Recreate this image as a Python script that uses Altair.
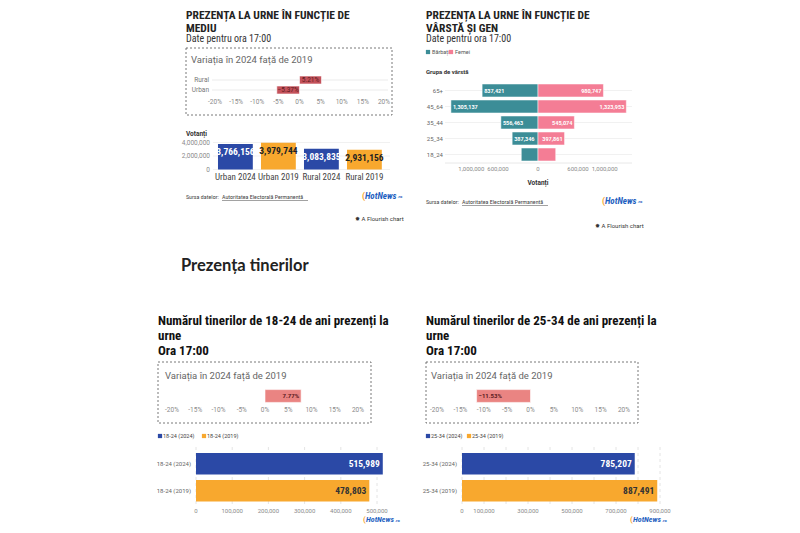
import altair as alt
import pandas as pd

# ---------------- data ----------------
env_cats = ['Rural', 'Urban']
env_var = [5.21, -5.37]
pct_ticks = [-20, -15, -10, -5, 0, 5, 10, 15, 20]

votes_cats = ['Urban 2024', 'Urban 2019', 'Rural 2024', 'Rural 2019']
votes_vals = [3766156, 3979744, 3083835, 2931156]
votes_year = ['2024', '2019', '2024', '2019']
votes_ticks = [0, 2000000, 4000000]

age_groups = ['65+', '45_64', '35_44', '25_34', '18_24']
men = [837421, 1305137, 556463, 387346, 250500]
women = [980747, 1323953, 545074, 397861, 265489]
age_ticks = [-1000000, -600000, 0, 600000, 1000000]

young_var_cat = ['18-24']
young_var = [7.77]
young_cats = ['18-24 (2024)', '18-24 (2019)']
young_vals = [515989, 478803]
young_grid = [0, 100000, 200000, 300000, 400000, 500000]
young_labels = [0, 100000, 200000, 300000, 400000, 500000]

adult_var_cat = ['25-34']
adult_var = [-11.53]
adult_cats = ['25-34 (2024)', '25-34 (2019)']
adult_vals = [785207, 887491]
adult_grid = [0, 100000, 200000, 300000, 400000, 500000, 600000, 700000, 800000, 900000]
adult_labels = [0, 100000, 300000, 500000, 700000, 900000]

# ---------------- style ----------------
OFF = 8
W, H = 784, 517
BLUE = '#2b49a6'
ORANGE = '#f8a82e'
TEAL = '#3c8d97'
PINK = '#f47d95'
RED_DARK = '#c4525b'
RED_LIGHT = '#ea8482'
GRAY = '#8a8a8a'
COND = 'Roboto Condensed, Liberation Sans Narrow, DejaVu Sans Condensed, Arial Narrow, Roboto'
BODY = 'Roboto, Inter, sans-serif'
ONE = pd.DataFrame({'k': [0]})


def p(v):
    return v - OFF


def T(text, x, y, size=7, color='#333', weight='normal', font=BODY, align='left', baseline='middle', **kw):
    return alt.Chart(ONE).mark_text(text=text, fontSize=size, color=color, fontWeight=weight, font=font,
                                    align=align, baseline=baseline, **kw).encode(x=alt.value(p(x)), y=alt.value(p(y)))


def box(x0, y0, x1, y1):
    return alt.Chart(ONE).mark_rect(fillOpacity=0, stroke='#555', strokeWidth=0.8, strokeDash=[2, 2]).encode(
        x=alt.value(p(x0)), x2=alt.value(p(x1)), y=alt.value(p(y0)), y2=alt.value(p(y1)))


def square(x, y, color):
    return alt.Chart(ONE).mark_square(size=18, color=color, opacity=1).encode(x=alt.value(p(x)), y=alt.value(p(y)))


def logo(x, y, s=9):
    return [
        T('(', x, y, size=s, color=ORANGE, weight='bold'),
        T('HotNews', x + 3, y, size=s, color='#1f5fbf', weight='bold', font=COND, fontStyle='italic'),
        T('.ro', x + 3.5 + s * 3.55, y + 1, size=4, color='#1f5fbf', weight='bold'),
    ]


def variation(cats, vals, x0, x1, y0, y1, color, tick_y, mode, cat_x=None, grid_x=None):
    df = pd.DataFrame({'cat': cats, 'v': vals})
    xs = alt.Scale(domain=[-20, 20], range=[p(x0), p(x1)], nice=False, zero=False)
    ys = alt.Scale(domain=cats, range=[p(y0), p(y1)], paddingInner=0.2, paddingOuter=0.1)
    X = alt.X('v:Q', scale=xs, axis=None)
    Y = alt.Y('cat:N', scale=ys, axis=None)
    out = []
    if grid_x:
        out.append(alt.Chart(df).mark_rule(color='#e6e6e6', strokeWidth=0.8).encode(
            y=alt.Y('cat:N', scale=ys, axis=None, bandPosition=0.5),
            x=alt.value(p(grid_x[0])), x2=alt.value(p(grid_x[1]))))
    out.append(alt.Chart(df).mark_bar(color=color, stroke='white', strokeWidth=0.6).encode(
        x=X, x2=alt.datum(0), y=Y))
    lab = alt.Chart(df).transform_calculate(lbl="format(datum.v, '.2f') + '%'", mid='datum.v / 2')
    if mode == 'center':
        out.append(lab.mark_text(fontSize=6.5, color='#5b1a1e', font=BODY).encode(
            x=alt.X('mid:Q', scale=xs, axis=None), y=Y, text='lbl:N'))
    elif mode == 'right':
        out.append(lab.mark_text(fontSize=6, color='#5b1a1e', font=BODY, fontWeight='bold', align='right', dx=-2).encode(
            x=X, y=Y, text='lbl:N'))
    else:
        out.append(lab.mark_text(fontSize=6, color='#5b1a1e', font=BODY, fontWeight='bold', align='left', dx=2).encode(
            x=X, y=Y, text='lbl:N'))
    if cat_x is not None:
        out.append(alt.Chart(df).mark_text(fontSize=6.5, color='#777', font=BODY, align='right').encode(
            x=alt.value(p(cat_x)), y=Y, text='cat:N'))
    tdf = pd.DataFrame({'t': pct_ticks})
    out.append(alt.Chart(tdf).transform_calculate(lbl="datum.t + '%'").mark_text(
        fontSize=6.5, color=GRAY, font=BODY).encode(
        x=alt.X('t:Q', scale=xs, axis=None), y=alt.value(p(tick_y)), text='lbl:N'))
    return out


def hbars(cats, vals, x0, x1, dmax, grid, labels, cat_x):
    df = pd.DataFrame({'cat': cats, 'v': vals, 'yr': ['2024', '2019']})
    xs = alt.Scale(domain=[0, dmax], range=[p(x0), p(x1)], nice=False)
    ys = alt.Scale(domain=cats, range=[p(450.3), p(504.3)], paddingInner=0.2, paddingOuter=0.1)
    X = alt.X('v:Q', scale=xs, axis=None)
    Y = alt.Y('cat:N', scale=ys, axis=None)
    out = []
    gdf = pd.DataFrame({'t': grid})
    out.append(alt.Chart(gdf).mark_rule(color='#dddddd', strokeWidth=0.8, strokeDash=[3, 3]).encode(
        x=alt.X('t:Q', scale=xs, axis=None), y=alt.value(p(447)), y2=alt.value(p(506))))
    out.append(alt.Chart(df).mark_bar().encode(
        x=X, x2=alt.datum(0), y=Y,
        color=alt.Color('yr:N', scale=alt.Scale(domain=['2024', '2019'], range=[BLUE, ORANGE]), legend=None)))
    out.append(alt.Chart(df).mark_text(fontSize=9.5, fontWeight='bold', font=COND, align='right', dx=-3).encode(
        x=X, y=Y, text=alt.Text('v:Q', format=','),
        color=alt.condition("datum.yr == '2024'", alt.value('white'), alt.value('#333'))))
    out.append(alt.Chart(df).mark_text(fontSize=6, color='#666', font=BODY, align='right').encode(
        x=alt.value(p(cat_x)), y=Y, text='cat:N'))
    ldf = pd.DataFrame({'t': labels})
    out.append(alt.Chart(ldf).transform_calculate(lbl="format(datum.t, ',')").mark_text(
        fontSize=6, color=GRAY, font=BODY).encode(
        x=alt.X('t:Q', scale=xs, axis=None), y=alt.value(p(511)), text='lbl:N'))
    return out


def top_title(x, line1, line2):
    return [
        T(line1, x, 19, size=11.5, color='#222', weight='bold', font=COND, baseline='alphabetic'),
        T(line2, x, 31.5, size=11.5, color='#222', weight='bold', font=COND, baseline='alphabetic'),
        T('Date pentru ora 17:00', x, 42, size=10, color='#333', font=COND, baseline='alphabetic'),
    ]


layers = []

# ===== top-left panel =====
layers += top_title(186, 'PREZENȚA LA URNE ÎN FUNCȚIE DE', 'MEDIU')
layers += [
    box(186, 48, 392, 115),
    T('Variația în 2024 față de 2019', 191, 60, size=9.5, color='#666'),
]
layers += variation(env_cats, env_var, 215, 384, 75, 95, RED_DARK, 102, 'center', cat_x=209, grid_x=(212, 388))

vdf = pd.DataFrame({'cat': votes_cats, 'v': votes_vals, 'yr': votes_year})
vxs = alt.Scale(domain=votes_cats, range=[p(213.9), p(385.9)], paddingInner=0.19, paddingOuter=0.095)
vys = alt.Scale(domain=[0, 4000000], range=[p(169.5), p(142.5)], nice=False)
vt = pd.DataFrame({'t': votes_ticks})
layers += [
    T('Votanți', 186, 134, size=6.5, color='#333', weight='bold'),
    alt.Chart(vt).mark_rule(color='#eeeeee', strokeWidth=0.8).encode(
        y=alt.Y('t:Q', scale=vys, axis=None), x=alt.value(p(213)), x2=alt.value(p(390))),
    alt.Chart(vt).transform_calculate(lbl="format(datum.t, ',')").mark_text(
        fontSize=6.5, color=GRAY, font=BODY, align='right').encode(
        y=alt.Y('t:Q', scale=vys, axis=None), x=alt.value(p(210)), text='lbl:N'),
    alt.Chart(vdf).mark_bar().encode(
        x=alt.X('cat:N', scale=vxs, axis=None, sort=votes_cats),
        y=alt.Y('v:Q', scale=vys, axis=None),
        color=alt.Color('yr:N', scale=alt.Scale(domain=['2024', '2019'], range=[BLUE, ORANGE]), legend=None)),
    alt.Chart(vdf).mark_text(fontSize=9.5, fontWeight='bold', font=COND, dy=8).encode(
        x=alt.X('cat:N', scale=vxs, axis=None, sort=votes_cats),
        y=alt.Y('v:Q', scale=vys, axis=None),
        text=alt.Text('v:Q', format=','),
        color=alt.condition("datum.yr == '2024'", alt.value('white'), alt.value('#222'))),
    alt.Chart(vdf).mark_text(fontSize=9, color='#444', font=COND).encode(
        x=alt.X('cat:N', scale=vxs, axis=None, sort=votes_cats), y=alt.value(p(177)), text='cat:N'),
    T('Sursa datelor:', 186, 197, size=6, color='#444', font=COND),
    T('Autoritatea Electorală Permanentă', 222, 197, size=6, color='#444', font=COND),
    alt.Chart(ONE).mark_rule(color='#444', strokeWidth=0.5).encode(
        x=alt.value(p(222)), x2=alt.value(p(308)), y=alt.value(p(200.5))),
    T('✸ A Flourish chart', 355, 219, size=6, color='#333'),
]
layers += logo(362, 196)

# ===== top-right panel =====
layers += top_title(426, 'PREZENȚA LA URNE ÎN FUNCȚIE DE', 'VÂRSTĂ ȘI GEN')
layers += [
    square(428, 52, TEAL),
    T('Bărbați', 432, 52, size=5.5, color='#555'),
    square(451, 52, PINK),
    T('Femei', 455, 52, size=5.5, color='#555'),
    T('Grupa de vârstă', 426, 72, size=6, color='#333', weight='bold'),
]
pyr = pd.DataFrame({'grp': age_groups * 2,
                    'sex': ['Bărbați'] * len(age_groups) + ['Femei'] * len(age_groups),
                    'v': men + women})
pxs = alt.Scale(domain=[-1400000, 1400000], range=[p(444.6), p(631.4)], nice=False)
pys = alt.Scale(domain=age_groups, range=[p(82.5), p(162.5)], paddingInner=0.19, paddingOuter=0.095)
pbase = alt.Chart(pyr).transform_calculate(sv="datum.sex == 'Bărbați' ? -datum.v : datum.v")
PY = alt.Y('grp:N', scale=pys, axis=None, sort=age_groups)
PX = alt.X('sv:Q', scale=pxs, axis=None)
pt = pd.DataFrame({'t': age_ticks})
layers += [
    alt.Chart(pd.DataFrame({'grp': age_groups})).mark_rule(color='#eeeeee', strokeWidth=0.8).encode(
        y=alt.Y('grp:N', scale=pys, axis=None, sort=age_groups, bandPosition=0.5),
        x=alt.value(p(445)), x2=alt.value(p(632))),
    alt.Chart(ONE).mark_rule(color='#e2e2e2', strokeWidth=0.8).encode(
        x=alt.value(p(445)), x2=alt.value(p(632)), y=alt.value(p(163))),
    pbase.mark_bar(stroke='white', strokeWidth=0.5).encode(
        x=PX, x2=alt.datum(0), y=PY,
        color=alt.Color('sex:N', scale=alt.Scale(domain=['Bărbați', 'Femei'], range=[TEAL, PINK]), legend=None)),
    pbase.transform_filter("datum.sex == 'Bărbați' && datum.v > 300000").mark_text(
        fontSize=5.5, fontWeight='bold', color='white', font=BODY, align='left', dx=2).encode(
        x=PX, y=PY, text=alt.Text('v:Q', format=',')),
    pbase.transform_filter("datum.sex == 'Femei' && datum.v > 300000").mark_text(
        fontSize=5.5, fontWeight='bold', color='white', font=BODY, align='right', dx=-2).encode(
        x=PX, y=PY, text=alt.Text('v:Q', format=',')),
    alt.Chart(pd.DataFrame({'grp': age_groups})).mark_text(fontSize=6, color='#666', font=BODY, align='right').encode(
        y=PY, x=alt.value(p(443)), text='grp:N'),
    alt.Chart(pt).transform_calculate(lbl="format(abs(datum.t), ',')").mark_text(
        fontSize=6, color=GRAY, font=BODY).encode(
        x=alt.X('t:Q', scale=pxs, axis=None), y=alt.value(p(169)), text='lbl:N'),
    T('Votanți', 538, 183, size=6.5, color='#333', weight='bold', align='center'),
    T('Sursa datelor:', 426, 202, size=6, color='#444', font=COND),
    T('Autoritatea Electorală Permanentă', 462, 202, size=6, color='#444', font=COND),
    alt.Chart(ONE).mark_rule(color='#444', strokeWidth=0.5).encode(
        x=alt.value(p(462)), x2=alt.value(p(548)), y=alt.value(p(205.5))),
    T('✸ A Flourish chart', 595, 226, size=6, color='#333'),
]
layers += logo(602, 201)

# ===== middle heading =====
layers.append(T('Prezența tinerilor', 181, 266, size=16.5, color='#222', weight='bold', font='Lato, Roboto'))

# ===== bottom-left panel =====
layers += [
    T('Numărul tinerilor de 18-24 de ani prezenți la', 158, 325, size=13, color='#111', weight='bold', font=COND, baseline='alphabetic'),
    T('urne', 158, 340, size=13, color='#111', weight='bold', font=COND, baseline='alphabetic'),
    T('Ora 17:00', 158, 355, size=13, color='#111', weight='bold', font=COND, baseline='alphabetic'),
    box(158, 362, 371, 423),
    T('Variația în 2024 față de 2019', 165, 376, size=9.5, color='#666'),
    square(160, 436, BLUE),
    T('18-24 (2024)', 163, 436, size=5.5, color='#444'),
    square(204, 436, ORANGE),
    T('18-24 (2019)', 207, 436, size=5.5, color='#444'),
]
layers += variation(young_var_cat, young_var, 172, 358, 388, 404, RED_LIGHT, 410, 'right')
layers += hbars(young_cats, young_vals, 196, 377, 500000, young_grid, young_labels, 191)
layers += logo(363, 520, s=8)

# ===== bottom-right panel =====
layers += [
    T('Numărul tinerilor de 25-34 de ani prezenți la', 426, 325, size=13, color='#111', weight='bold', font=COND, baseline='alphabetic'),
    T('urne', 426, 340, size=13, color='#111', weight='bold', font=COND, baseline='alphabetic'),
    T('Ora 17:00', 426, 355, size=13, color='#111', weight='bold', font=COND, baseline='alphabetic'),
    box(426, 362, 638, 423),
    T('Variația în 2024 față de 2019', 431, 376, size=9.5, color='#666'),
    square(428, 436, BLUE),
    T('25-34 (2024)', 431, 436, size=5.5, color='#444'),
    square(469, 436, ORANGE),
    T('25-34 (2019)', 472, 436, size=5.5, color='#444'),
]
layers += variation(adult_var_cat, adult_var, 437, 624, 388, 404, RED_LIGHT, 410, 'left')
layers += hbars(adult_cats, adult_vals, 462, 660, 900000, adult_grid, adult_labels, 457)
layers += logo(630, 520, s=8)

chart = alt.layer(*layers).properties(
    width=W, height=H, autosize=alt.AutoSizeParams(type='none'), padding=0, background='white'
).resolve_scale(x='independent', y='independent', color='independent').configure_view(strokeWidth=0)

chart.save('out.html', embed_options={'renderer': 'svg', 'actions': False})
